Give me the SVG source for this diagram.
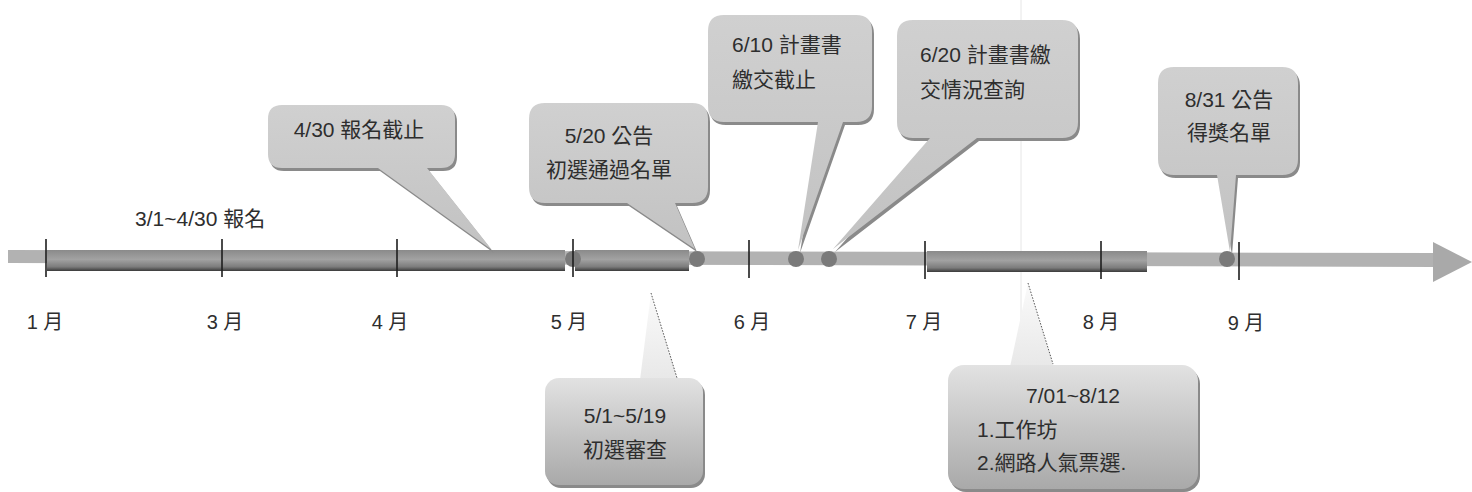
<svg xmlns="http://www.w3.org/2000/svg" width="1472" height="492" viewBox="0 0 1472 492">
  <defs>
    <linearGradient id="darkBar" x1="0" y1="0" x2="0" y2="1">
      <stop offset="0" stop-color="#8a8a8a"/>
      <stop offset="0.45" stop-color="#a2a2a2"/>
      <stop offset="0.8" stop-color="#7c7c7c"/>
      <stop offset="1" stop-color="#3a3a3a"/>
    </linearGradient>
    <linearGradient id="upFill" x1="0" y1="0" x2="0" y2="1">
      <stop offset="0" stop-color="#d0d0d0"/>
      <stop offset="1" stop-color="#c2c2c2"/>
    </linearGradient>
    <linearGradient id="lowFill" x1="0" y1="0" x2="0" y2="1">
      <stop offset="0" stop-color="#e2e2e2"/>
      <stop offset="1" stop-color="#a9a9a9"/>
    </linearGradient>
    <linearGradient id="ptrFill" x1="0" y1="0" x2="0" y2="1">
      <stop offset="0" stop-color="#fafafa"/>
      <stop offset="1" stop-color="#e8e8e8"/>
    </linearGradient>
  </defs>
  <style>
    text { font-family: "Liberation Sans", "Noto Sans CJK TC", sans-serif; fill: #2e2e2e; }
    .lbl { font-size: 21px; }
    .mon { font-size: 20px; text-anchor: middle; }
    .mid { text-anchor: middle; }
    .shadow { fill: #8a8a8a; }
    .up { fill: url(#upFill); }
    .low { fill: url(#lowFill); }
    .tick { stroke: #1e1e1e; stroke-width: 1.6; }
    .dot { fill: #7a7a7a; }
    .dbar { fill: url(#darkBar); }
    .dotted { stroke: #555; stroke-width: 1; stroke-dasharray: 1.5 1.5; fill: none; }
    .ptr { fill: url(#ptrFill); }
  </style>

  <rect width="1472" height="492" fill="#ffffff"/>
  <line x1="1021" y1="0" x2="1021" y2="492" stroke="#e6e6e6" stroke-width="1"/>

  <g id="axis">
    <polygon points="8,250 1436,253 1436,267 8,263" fill="#b2b2b2"/>
    <polygon points="1433,242 1472,262 1433,282" fill="#a9a9a9"/>
    <rect class="dbar" x="47" y="250" width="518" height="21"/>
    <rect class="dbar" x="575" y="250" width="114" height="21"/>
    <rect class="dbar" x="927" y="251" width="220" height="21"/>
    <circle class="dot" cx="573" cy="259" r="8"/>
    <circle class="dot" cx="697" cy="259" r="8"/>
    <circle class="dot" cx="796" cy="259" r="8"/>
    <circle class="dot" cx="829" cy="259" r="8"/>
    <circle class="dot" cx="1227" cy="259" r="8"/>
    <line class="tick" x1="46" y1="239" x2="46" y2="277"/>
    <line class="tick" x1="222" y1="239" x2="222" y2="277"/>
    <line class="tick" x1="397" y1="239" x2="397" y2="277"/>
    <line class="tick" x1="573" y1="239" x2="573" y2="277"/>
    <line class="tick" x1="749" y1="240" x2="749" y2="278"/>
    <line class="tick" x1="925" y1="241" x2="925" y2="279"/>
    <line class="tick" x1="1101" y1="241" x2="1101" y2="279"/>
    <line class="tick" x1="1239" y1="242" x2="1239" y2="280"/>
    <text class="mon" x="45" y="329">1 月</text>
    <text class="mon" x="225" y="329">3 月</text>
    <text class="mon" x="390" y="329">4 月</text>
    <text class="mon" x="569" y="329">5 月</text>
    <text class="mon" x="752" y="329">6 月</text>
    <text class="mon" x="924" y="329">7 月</text>
    <text class="mon" x="1101" y="329">8 月</text>
    <text class="mon" x="1246" y="330">9 月</text>
    <text class="lbl" x="135" y="226">3/1~4/30 報名</text>
  </g>

  <g id="connectors">
    <polygon class="ptr" points="651,293 640,380 678,380"/>
    <line class="dotted" x1="651" y1="293" x2="677" y2="378"/>
    <polygon class="ptr" points="1028,283 1010,367 1054,367"/>
    <line class="dotted" x1="1028" y1="283" x2="1053" y2="364"/>
  </g>

  <g id="c-0430">
    <path class="shadow" transform="translate(2,3)" d="M282,105 H441 Q455,105 455,119 V154 Q455,168 441,168 H427 L492,250 L378,168 H282 Q268,168 268,154 V119 Q268,105 282,105 Z"/>
    <path class="up" d="M282,105 H441 Q455,105 455,119 V154 Q455,168 441,168 H427 L492,250 L378,168 H282 Q268,168 268,154 V119 Q268,105 282,105 Z"/>
    <text class="lbl mid" x="359" y="137">4/30 報名截止</text>
  </g>

  <g id="c-0520">
    <path class="shadow" transform="translate(2,3)" d="M545,103 H692 Q708,103 708,119 V187 Q708,203 692,203 H675 L695,249 L627,203 H545 Q529,203 529,187 V119 Q529,103 545,103 Z"/>
    <path class="up" d="M545,103 H692 Q708,103 708,119 V187 Q708,203 692,203 H675 L695,249 L627,203 H545 Q529,203 529,187 V119 Q529,103 545,103 Z"/>
    <text class="lbl mid" x="609" y="143">5/20 公告</text>
    <text class="lbl mid" x="609" y="177">初選通過名單</text>
  </g>

  <g id="c-0610">
    <path class="shadow" transform="translate(2,3)" d="M724,15 H856 Q872,15 872,31 V106 Q872,122 856,122 H843 L798,250 L818,122 H724 Q708,122 708,106 V31 Q708,15 724,15 Z"/>
    <path class="up" d="M724,15 H856 Q872,15 872,31 V106 Q872,122 856,122 H843 L798,250 L818,122 H724 Q708,122 708,106 V31 Q708,15 724,15 Z"/>
    <text class="lbl" x="732" y="52">6/10 計畫書</text>
    <text class="lbl" x="732" y="87">繳交截止</text>
  </g>

  <g id="c-0620">
    <path class="shadow" transform="translate(2,3)" d="M913,20 H1062 Q1078,20 1078,36 V122 Q1078,138 1062,138 H977 L833,249 L930,138 H913 Q897,138 897,122 V36 Q897,20 913,20 Z"/>
    <path class="up" d="M913,20 H1062 Q1078,20 1078,36 V122 Q1078,138 1062,138 H977 L833,249 L930,138 H913 Q897,138 897,122 V36 Q897,20 913,20 Z"/>
    <text class="lbl" x="920" y="62">6/20 計畫書繳</text>
    <text class="lbl" x="920" y="97">交情況查詢</text>
  </g>

  <g id="c-0831">
    <path class="shadow" transform="translate(2,3)" d="M1174,67 H1282 Q1298,67 1298,83 V159 Q1298,175 1282,175 H1236 L1230,252 L1217,175 H1174 Q1158,175 1158,159 V83 Q1158,67 1174,67 Z"/>
    <path class="up" d="M1174,67 H1282 Q1298,67 1298,83 V159 Q1298,175 1282,175 H1236 L1230,252 L1217,175 H1174 Q1158,175 1158,159 V83 Q1158,67 1174,67 Z"/>
    <text class="lbl mid" x="1229" y="107">8/31 公告</text>
    <text class="lbl mid" x="1229" y="140">得獎名單</text>
  </g>

  <g id="c-0501">
    <rect class="shadow" x="547" y="381" width="158" height="107" rx="14"/>
    <rect class="low" x="545" y="378" width="158" height="107" rx="14"/>
    <text class="lbl mid" x="625" y="423">5/1~5/19</text>
    <text class="lbl mid" x="625" y="457">初選審查</text>
  </g>

  <g id="c-0701">
    <rect class="shadow" x="950" y="368" width="250" height="124" rx="16"/>
    <rect class="low" x="948" y="365" width="250" height="124" rx="16"/>
    <text class="lbl mid" x="1073" y="403">7/01~8/12</text>
    <text class="lbl" x="977" y="437">1.工作坊</text>
    <text class="lbl" x="977" y="470">2.網路人氣票選.</text>
  </g>
</svg>
